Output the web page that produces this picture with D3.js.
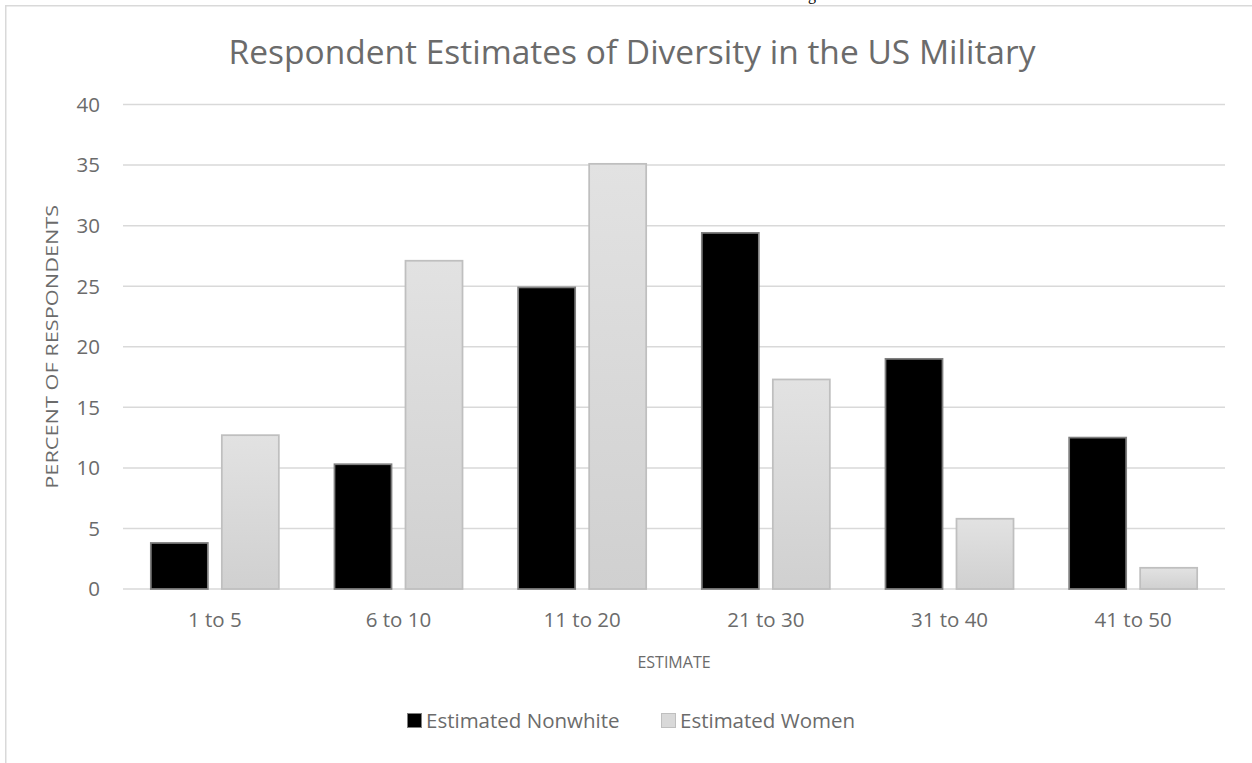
<!DOCTYPE html>
<html>
<head>
<meta charset="utf-8">
<script src="https://cdn.jsdelivr.net/npm/d3@7"></script>
<style>
  body { margin: 0; background: #fff; }
  text { font-family: "Open Sans", sans-serif; }
</style>
</head>
<body>
<div id="chart"></div>
<script>
// chart data
var categories = ["1 to 5", "6 to 10", "11 to 20", "21 to 30", "31 to 40", "41 to 50"];
var seriesNames = ["Estimated Nonwhite", "Estimated Women"];
var nonwhite = [3.8, 10.3, 24.9, 29.4, 19.0, 12.5];
var women = [12.7, 27.1, 35.1, 17.3, 5.8, 1.75];
var yTicks = [0, 5, 10, 15, 20, 25, 30, 35, 40];

var width = 1252, height = 763;
var margin = { top: 104.5, right: 27, bottom: 174, left: 123 };
var textColor = "#6b6b6b";

var svg = d3.select("#chart").append("svg")
    .attr("width", width)
    .attr("height", height);

// gradient for the light bars
var defs = svg.append("defs");
var grad = defs.append("linearGradient")
    .attr("id", "grayGrad")
    .attr("x1", 0).attr("y1", 0).attr("x2", 0).attr("y2", 1);
grad.append("stop").attr("offset", "0%").attr("stop-color", "#e2e2e2");
grad.append("stop").attr("offset", "100%").attr("stop-color", "#d0d0d0");

// chart frame (cut off at right and bottom)
svg.append("rect")
    .attr("x", 5.75).attr("y", 5.75)
    .attr("width", width + 20).attr("height", height + 20)
    .attr("fill", "none")
    .attr("stroke", "#d9d9d9")
    .attr("stroke-width", 1.5);

// fragment of the document text above the chart
svg.append("text")
    .attr("x", 812).attr("y", 0)
    .attr("text-anchor", "middle")
    .style("font-family", "'Liberation Serif', serif")
    .style("font-size", "16px")
    .attr("fill", "#000")
    .text("g");

var x0 = d3.scaleBand()
    .domain(categories)
    .range([margin.left, width - margin.right])
    .paddingInner(0.303)
    .paddingOuter(0.1515);

var x1 = d3.scaleBand()
    .domain(seriesNames)
    .range([0, x0.bandwidth()])
    .paddingInner(0.197)
    .paddingOuter(0);

var y = d3.scaleLinear()
    .domain([0, 40])
    .range([height - margin.bottom, margin.top]);

// gridlines
svg.append("g").selectAll("line")
    .data(yTicks)
    .enter().append("line")
    .attr("x1", margin.left)
    .attr("x2", width - margin.right)
    .attr("y1", function (d) { return y(d); })
    .attr("y2", function (d) { return y(d); })
    .attr("stroke", "#d9d9d9")
    .attr("stroke-width", 1.5);

// y tick labels
svg.append("g").selectAll("text")
    .data(yTicks)
    .enter().append("text")
    .attr("x", 100)
    .attr("y", function (d) { return y(d); })
    .attr("dy", "0.36em")
    .attr("text-anchor", "end")
    .style("font-size", "20.5px")
    .attr("fill", textColor)
    .text(function (d) { return d; });

// bars
var rows = categories.map(function (c, i) {
    return { cat: c, values: [
        { name: seriesNames[0], v: nonwhite[i] },
        { name: seriesNames[1], v: women[i] }
    ] };
});

var groups = svg.append("g").selectAll("g")
    .data(rows)
    .enter().append("g")
    .attr("transform", function (d) { return "translate(" + x0(d.cat) + ",0)"; });

groups.selectAll("rect")
    .data(function (d) { return d.values; })
    .enter().append("rect")
    .attr("x", function (d) { return x1(d.name); })
    .attr("width", x1.bandwidth())
    .attr("y", function (d) { return y(d.v); })
    .attr("height", function (d) { return y(0) - y(d.v); })
    .attr("fill", function (d) { return d.name === seriesNames[0] ? "#000" : "url(#grayGrad)"; })
    .attr("stroke", function (d) { return d.name === seriesNames[0] ? "#7f7f7f" : "#bfbfbf"; })
    .attr("stroke-width", 1.75);

// x category labels
svg.append("g").selectAll("text")
    .data(categories)
    .enter().append("text")
    .attr("x", function (d) { return x0(d) + x0.bandwidth() / 2; })
    .attr("y", 627)
    .attr("text-anchor", "middle")
    .style("font-size", "20.5px")
    .attr("fill", textColor)
    .text(function (d) { return d; });

// title
svg.append("text")
    .attr("x", 632).attr("y", 64)
    .attr("text-anchor", "middle")
    .style("font-size", "33.5px")
    .attr("fill", textColor)
    .text("Respondent Estimates of Diversity in the US Military");

// axis titles
svg.append("text")
    .attr("x", (margin.left + width - margin.right) / 2)
    .attr("y", 668)
    .attr("text-anchor", "middle")
    .style("font-size", "16px")
    .attr("fill", textColor)
    .text("ESTIMATE");

svg.append("text")
    .attr("transform", "translate(57.5," + ((margin.top + height - margin.bottom) / 2) + ") rotate(-90)")
    .attr("text-anchor", "middle")
    .attr("textLength", 284)
    .attr("lengthAdjust", "spacingAndGlyphs")
    .style("font-size", "15.5px")
    .attr("fill", textColor)
    .text("PERCENT OF RESPONDENTS");

// legend
var legendX = [407, 661];
var legend = svg.append("g").selectAll("g")
    .data(seriesNames)
    .enter().append("g")
    .attr("transform", function (d, i) { return "translate(" + legendX[i] + ",720.5)"; });

legend.append("rect")
    .attr("x", 0.5).attr("y", -7)
    .attr("width", 14).attr("height", 14)
    .attr("fill", function (d, i) { return i === 0 ? "#000" : "#d9d9d9"; })
    .attr("stroke", function (d, i) { return i === 0 ? "#7f7f7f" : "#bfbfbf"; })
    .attr("stroke-width", 1);

legend.append("text")
    .attr("x", 19).attr("y", 0)
    .attr("dy", "0.36em")
    .style("font-size", "20.5px")
    .attr("fill", textColor)
    .text(function (d) { return d; });
</script>
</body>
</html>
